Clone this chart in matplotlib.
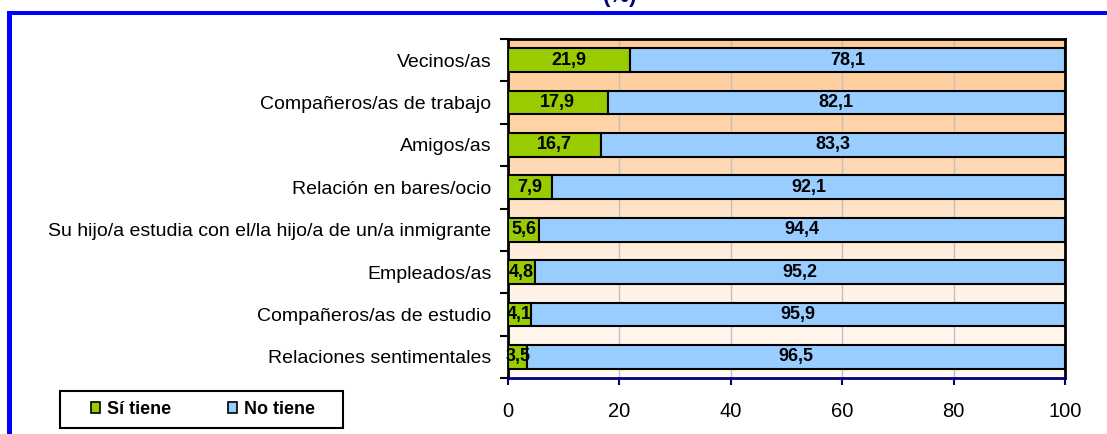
import matplotlib.pyplot as plt
import numpy as np
from matplotlib.colors import LinearSegmentedColormap
from matplotlib.patches import Rectangle

plt.rcParams["font.family"] = ["Liberation Sans", "DejaVu Sans"]

categories = [
    "Vecinos/as",
    "Compañeros/as de trabajo",
    "Amigos/as",
    "Relación en bares/ocio",
    "Su hijo/a estudia con el/la hijo/a de un/a inmigrante",
    "Empleados/as",
    "Compañeros/as de estudio",
    "Relaciones sentimentales",
]
si_tiene = [21.9, 17.9, 16.7, 7.9, 5.6, 4.8, 4.1, 3.5]
no_tiene = [78.1, 82.1, 83.3, 92.1, 94.4, 95.2, 95.9, 96.5]
x_ticks = [0, 20, 40, 60, 80, 100]

GREEN = "#99CC00"
BLUE = "#99CCFF"
NAVY = "#000080"


def fmt(v: float) -> str:
    return f"{v:.1f}".replace(".", ",")


W, H = 1107, 434
fig = plt.figure(figsize=(W / 100, H / 100), dpi=100)
fig.patch.set_facecolor("white")

# blue frame, only top and left edges show in the crop
fig.patches.append(Rectangle((7 / W, 0), 5 / W, (H - 11) / H, transform=fig.transFigure,
                             facecolor="#0000FF", edgecolor="none"))
fig.patches.append(Rectangle((7 / W, 1 - 15 / H), 1, 4 / H, transform=fig.transFigure,
                             facecolor="#0000FF", edgecolor="none"))
# title sits mostly above the crop, as in the source
fig.text(620 / W, 1 - 2 / H, "(%)", ha="center", va="baseline", fontsize=16,
         fontweight="bold", color=NAVY)

ax = fig.add_axes([508 / W, 1 - 378 / H, (1065 - 508) / W, (378 - 39) / H])

# gradient background
grad = LinearSegmentedColormap.from_list("bg", ["#FFCC99", "#FFD6AD", "#FFF0E2", "#FFF9F4"])
ax.imshow(np.linspace(0, 1, 256).reshape(-1, 1), cmap=grad, aspect="auto",
          extent=(0, 100, 7.5, -0.5), zorder=0)

y = np.arange(len(categories))
h = 0.56
ax.barh(y, si_tiene, height=h, color=GREEN, edgecolor="black", linewidth=1.5, zorder=3)
ax.barh(y, no_tiene, left=si_tiene, height=h, color=BLUE, edgecolor="black", linewidth=1.5, zorder=3)

for i, (s, n) in enumerate(zip(si_tiene, no_tiene)):
    ax.text(s / 2, i, fmt(s), ha="center", va="center", fontsize=13, fontweight="bold", zorder=4)
    ax.text(s + n / 2, i, fmt(n), ha="center", va="center", fontsize=13, fontweight="bold", zorder=4)

ax.set_xlim(0, 100)
ax.set_ylim(7.5, -0.5)
for gx in x_ticks[1:-1]:
    ax.axvline(gx, color="#C0C0C0", linewidth=1, zorder=1)

ax.set_xticks(x_ticks)
ax.set_xticklabels([str(t) for t in x_ticks], fontsize=14.5)
ax.tick_params(axis="x", direction="out", length=5, width=1.5, color=NAVY, pad=12)

ax.set_yticks(y)
ax.set_yticklabels(categories, fontsize=14)
ax.tick_params(axis="y", which="major", length=0, pad=12)
ax.set_yticks(np.arange(-0.5, 8, 1), minor=True)
ax.tick_params(axis="y", which="minor", direction="out", length=6, width=1.5, color="black")

for side in ("top", "right", "left"):
    ax.spines[side].set_color("black")
    ax.spines[side].set_linewidth(2)
ax.spines["bottom"].set_color(NAVY)
ax.spines["bottom"].set_linewidth(2)

# legend frame drawn by hand so its size matches the source box
fig.patches.append(Rectangle((60 / W, 1 - 428 / H), 283 / W, 37 / H, transform=fig.transFigure,
                             facecolor="white", edgecolor="black", linewidth=1.5, zorder=5))
handles = [Rectangle((0, 0), 1, 1, facecolor=GREEN, edgecolor="black", linewidth=1.2),
           Rectangle((0, 0), 1, 1, facecolor=BLUE, edgecolor="black", linewidth=1.2)]
leg = fig.legend(handles, ["Sí tiene", "No tiene"], loc="center", ncol=2,
                 bbox_to_anchor=(203 / W, 1 - 409.5 / H), prop={"weight": "bold", "size": 13},
                 frameon=False, handlelength=0.5, handleheight=0.5, handletextpad=0.4,
                 columnspacing=3.1, borderpad=0.2)
leg.set_zorder(6)

fig.savefig("out.png", dpi=100, facecolor="white")
